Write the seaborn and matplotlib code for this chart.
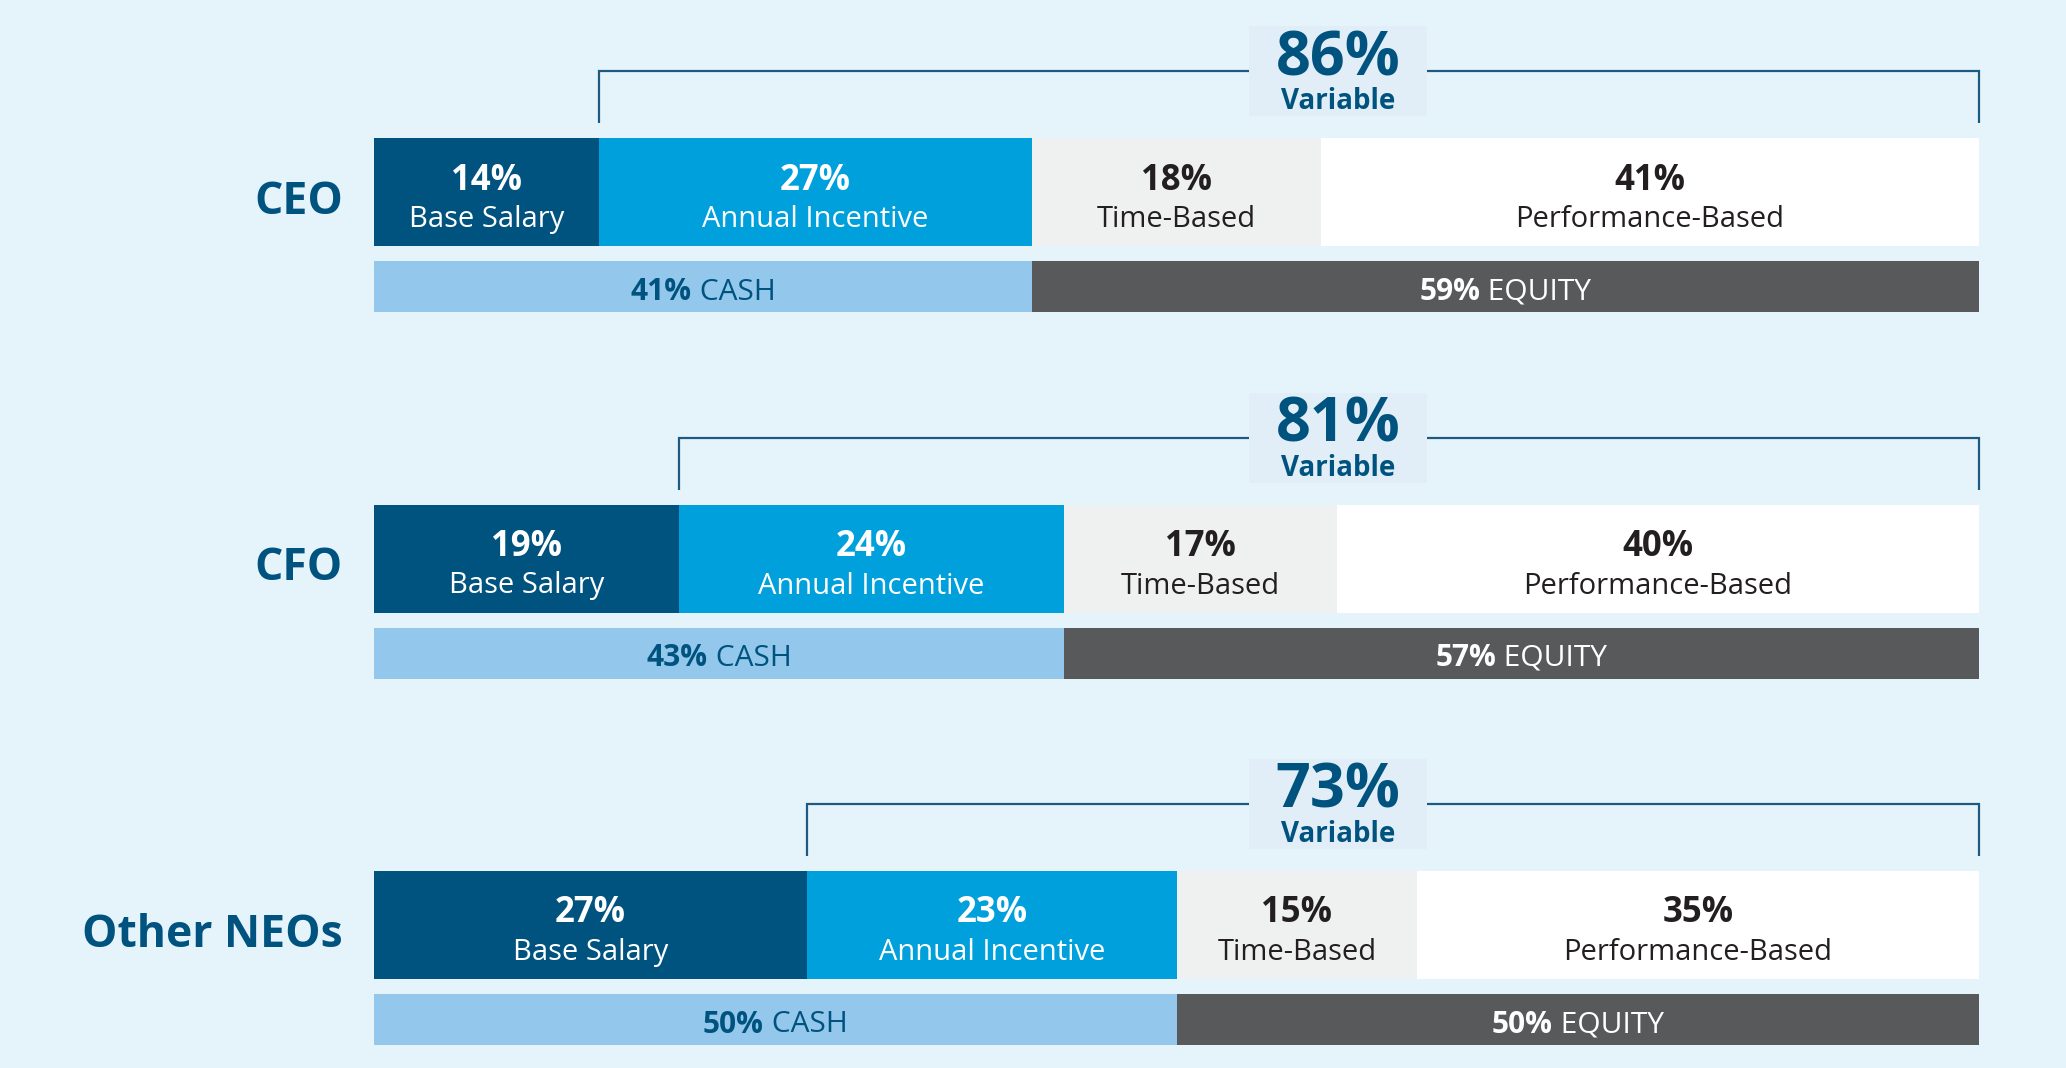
import matplotlib
matplotlib.use("Agg")
import matplotlib.pyplot as plt
import seaborn as sns
import numpy as np
from matplotlib.patches import Rectangle

# ---------------- data ----------------
roles = ["CEO", "CFO", "Other NEOs"]
base_salary = [14, 19, 27]
annual_incentive = [27, 24, 23]
time_based = [18, 17, 15]
performance_based = [41, 40, 35]
cash = [41, 43, 50]
equity = [59, 57, 50]
variable = [86, 81, 73]
segment_names = ["Base Salary", "Annual Incentive", "Time-Based", "Performance-Based"]

# ---------------- style ----------------
BG = "#e5f3fb"
BOX = "#e1edf7"
DARK_BLUE = "#00537f"
MID_BLUE = "#00a0dc"
LIGHT_GRAY = "#eff1f1"
WHITE = "#ffffff"
CASH_C = "#93c8ec"
EQUITY_C = "#58595b"
TEXT_DARK = "#231f20"
LINE_C = "#1d5a82"

sns.set_theme(style="white")
plt.rcParams["font.family"] = ["Open Sans", "DejaVu Sans"]

W, H = 2066, 1068
fig = plt.figure(figsize=(W / 100, H / 100), dpi=100)
fig.patch.set_facecolor(BG)
ax = fig.add_axes([0, 0, 1, 1])
ax.set_facecolor(BG)

X0_PX, X100_PX = 374, 1979
ppx = (X100_PX - X0_PX) / 100.0
XLIM = (-X0_PX / ppx, 100 + (W - X100_PX) / ppx)

row_step = 366.5
main_c = 192 + row_step * np.arange(len(roles))
cash_c = main_c + 94.5
main_h = 108
cash_h = 51

seg_vals = np.array([base_salary, annual_incentive, time_based, performance_based], dtype=float)
cums = np.cumsum(seg_vals, axis=0)
seg_colors = [DARK_BLUE, MID_BLUE, LIGHT_GRAY, WHITE]
seg_text = [WHITE, WHITE, TEXT_DARK, TEXT_DARK]

# stacked main bars (draw largest cumulative first)
for k in range(3, -1, -1):
    sns.barplot(x=cums[k], y=main_c, orient="y", native_scale=True,
                width=main_h / row_step, color=seg_colors[k], saturation=1,
                linewidth=0, errorbar=None, ax=ax)

# cash / equity bars
cash_total = np.array(cash, dtype=float) + np.array(equity, dtype=float)
sns.barplot(x=cash_total, y=cash_c, orient="y", native_scale=True,
            width=cash_h / row_step, color=EQUITY_C, saturation=1,
            linewidth=0, errorbar=None, ax=ax)
sns.barplot(x=np.array(cash, dtype=float), y=cash_c, orient="y", native_scale=True,
            width=cash_h / row_step, color=CASH_C, saturation=1,
            linewidth=0, errorbar=None, ax=ax)

ax.set_xlim(*XLIM)
ax.set_ylim(H, 0)
ax.axis("off")

renderer = fig.canvas.get_renderer()


def two_part(xc, yc, bold, regular, color, size):
    t1 = ax.text(0, yc, bold, fontweight="bold", fontsize=size, color=color,
                 ha="left", va="center_baseline")
    t2 = ax.text(0, yc, regular, fontsize=size, color=color,
                 ha="left", va="center_baseline")
    w1 = t1.get_window_extent(renderer).width
    w2 = t2.get_window_extent(renderer).width
    total = w1 + w2
    left = xc - (total / 2) / ppx
    t1.set_x(left)
    t2.set_x(left + w1 / ppx)


for i, role in enumerate(roles):
    yc = main_c[i]
    top = yc - main_h / 2
    # row label
    ax.text(-(X0_PX - 343) / ppx, yc + 5, role, ha="right", va="center_baseline",
            fontsize=32, fontweight="bold", color=DARK_BLUE)
    # segment labels
    starts = np.concatenate([[0], cums[:-1, i]])
    for k in range(4):
        xc = starts[k] + seg_vals[k, i] / 2
        ax.text(xc, yc - 16, f"{int(seg_vals[k, i])}%", ha="center", va="center_baseline",
                fontsize=25, fontweight="bold", color=seg_text[k])
        ax.text(xc, yc + 24, segment_names[k], ha="center", va="center_baseline",
                fontsize=21, color=seg_text[k])
    # cash / equity labels
    two_part(cash[i] / 2, cash_c[i] + 2, f"{cash[i]}%", " CASH", DARK_BLUE, 21.5)
    two_part(cash[i] + equity[i] / 2, cash_c[i] + 2, f"{equity[i]}%", " EQUITY", WHITE, 21.5)
    # bracket
    yb = top - 67
    yv = top - 15
    ax.plot([base_salary[i], base_salary[i], 100, 100], [yv, yb, yb, yv],
            color=LINE_C, lw=1.6, solid_capstyle="butt", solid_joinstyle="miter", zorder=3)
    # label box
    bx_c = (1338 - X0_PX) / ppx
    bw = 178 / ppx
    ax.add_patch(Rectangle((bx_c - bw / 2, top - 112), bw, 90, facecolor=BOX,
                           edgecolor="none", zorder=4))
    ax.text(bx_c, top - 86, f"{variable[i]}%", ha="center", va="center_baseline",
            fontsize=44, fontweight="bold", color=DARK_BLUE, zorder=5)
    ax.text(bx_c, top - 40, "Variable", ha="center", va="center_baseline",
            fontsize=20, fontweight="bold", color=DARK_BLUE, zorder=5)

fig.savefig("out.png", dpi=100, facecolor=BG)
